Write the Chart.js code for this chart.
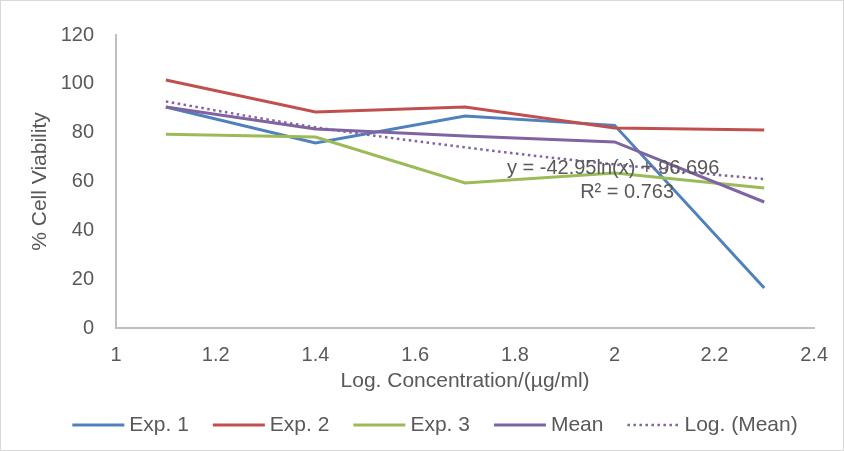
<!DOCTYPE html>
<html>
<head>
<meta charset="utf-8">
<script src="https://cdn.jsdelivr.net/npm/chart.js@4"></script>
<style>
  html, body { margin: 0; padding: 0; background: #fff; }
  #wrap { width: 844px; height: 451px; position: relative; box-sizing: border-box; border: 1px solid #d9d9d9; }
</style>
</head>
<body>
<div id="wrap"><canvas id="viabilityChart"></canvas></div>
<script>
// --------------------- Data ---------------------
const logConc = [1.1, 1.4, 1.7, 2.0, 2.3];
const exp1 = [90.5, 75.8, 86.8, 83.0, 16.4];
const exp2 = [101.6, 88.5, 90.5, 81.9, 81.1];
const exp3 = [79.4, 78.2, 59.4, 63.5, 57.3];
const meanVals = [90.5, 81.5, 78.6, 76.2, 51.6];
// trendline
const trendX = [1.1, 1.25, 1.4, 1.55, 1.7, 1.85, 2.0, 2.15, 2.3];
const trendY = [92.8, 87.3, 82.2, 77.9, 74.0, 70.3, 67.0, 63.8, 61.0];
const xTicks = [1, 1.2, 1.4, 1.6, 1.8, 2, 2.2, 2.4];
const yTicks = [0, 20, 40, 60, 80, 100, 120];
const eqText = 'y = -42.95ln(x) + 96.696';
const r2Text = 'R² = 0.763';

const FONT = "'Liberation Sans', Arial, sans-serif";
const GREY = '#595959';
const TICK_SIZE = 20;
const TEXT_SIZE = 21;

const pts = (xs, ys) => xs.map((x, i) => ({ x: x, y: ys[i] }));

function lineSet(label, data, color, order) {
  return {
    label: label, data: pts(logConc, data), borderColor: color, backgroundColor: color,
    borderWidth: 3, pointRadius: 0, tension: 0, order: order
  };
}

// --------------------- Trendline label ---------------------
const eqLabel = {
  id: 'eqLabel',
  afterDatasetsDraw(chart) {
    const { ctx, scales } = chart;
    ctx.save();
    ctx.fillStyle = GREY;
    ctx.font = '20px ' + FONT;
    ctx.textAlign = 'center';
    ctx.textBaseline = 'middle';
    ctx.fillText(eqText, scales.x.getPixelForValue(1.997), scales.y.getPixelForValue(65.5));
    ctx.fillText(r2Text, scales.x.getPixelForValue(2.025), scales.y.getPixelForValue(55.3));
    ctx.restore();
  }
};

// --------------------- Legend (line samples, in dataset order) ---------------------
const lineLegend = {
  id: 'lineLegend',
  afterDraw(chart) {
    const { ctx } = chart;
    const sets = chart.data.datasets;
    const sample = 52, gap = 5, itemGap = 24;
    ctx.save();
    ctx.font = TEXT_SIZE + 'px ' + FONT;
    const widths = sets.map(ds => sample + gap + ctx.measureText(ds.label).width);
    const total = widths.reduce((a, b) => a + b, 0) + itemGap * (sets.length - 1);
    let x = (chart.width - total) / 2 + 13;  // legend sits a bit right of centre
    const y = chart.height - 25;
    sets.forEach((ds, i) => {
      ctx.beginPath();
      ctx.strokeStyle = ds.borderColor;
      ctx.lineWidth = ds.borderWidth;
      ctx.setLineDash(ds.borderDash || []);
      ctx.moveTo(x, y);
      ctx.lineTo(x + sample, y);
      ctx.stroke();
      ctx.setLineDash([]);
      ctx.fillStyle = GREY;
      ctx.textAlign = 'left';
      ctx.textBaseline = 'middle';
      ctx.fillText(ds.label, x + sample + gap, y);
      x += widths[i] + itemGap;
    });
    ctx.restore();
  }
};

// --------------------- Chart ---------------------
new Chart(document.getElementById('viabilityChart'), {
  type: 'line',
  data: {
    datasets: [
      lineSet('Exp. 1', exp1, '#4F81BD', 5),
      lineSet('Exp. 2', exp2, '#C0504D', 4),
      lineSet('Exp. 3', exp3, '#9BBB59', 3),
      lineSet('Mean', meanVals, '#8064A2', 2),
      {
        label: 'Log. (Mean)', data: pts(trendX, trendY), borderColor: '#8064A2', backgroundColor: '#8064A2',
        borderWidth: 2.5, borderDash: [2.5, 3.5], pointRadius: 0, cubicInterpolationMode: 'monotone', order: 1
      }
    ]
  },
  options: {
    responsive: true,
    maintainAspectRatio: false,
    animation: false,
    layout: { padding: { left: 17, right: 14, top: 28, bottom: 56 } },
    scales: {
      x: {
        type: 'linear', min: 1, max: 2.4,
        afterBuildTicks: axis => { axis.ticks = xTicks.map(v => ({ value: v })); },
        afterFit: axis => { axis.height = 66; },
        grid: { display: false, drawTicks: false },
        border: { color: '#bfbfbf', width: 2 },
        ticks: { color: GREY, font: { family: FONT, size: TICK_SIZE }, padding: 15, maxRotation: 0, callback: v => String(v) },
        title: { display: true, text: 'Log. Concentration/(µg/ml)', color: GREY, font: { family: FONT, size: TEXT_SIZE }, padding: { top: 2, bottom: 0 } }
      },
      y: {
        min: 0, max: 120,
        afterBuildTicks: axis => { axis.ticks = yTicks.map(v => ({ value: v })); },
        afterFit: axis => { axis.width = 98; },
        grid: { display: false, drawTicks: false },
        border: { color: '#bfbfbf', width: 2 },
        ticks: { color: GREY, font: { family: FONT, size: TICK_SIZE }, padding: 22 },
        title: { display: true, text: '% Cell Viability', color: GREY, font: { family: FONT, size: TEXT_SIZE }, padding: { top: 10, bottom: 0 } }
      }
    },
    plugins: {
      legend: { display: false },
      tooltip: { enabled: false }
    }
  },
  plugins: [eqLabel, lineLegend]
});
</script>
</body>
</html>
